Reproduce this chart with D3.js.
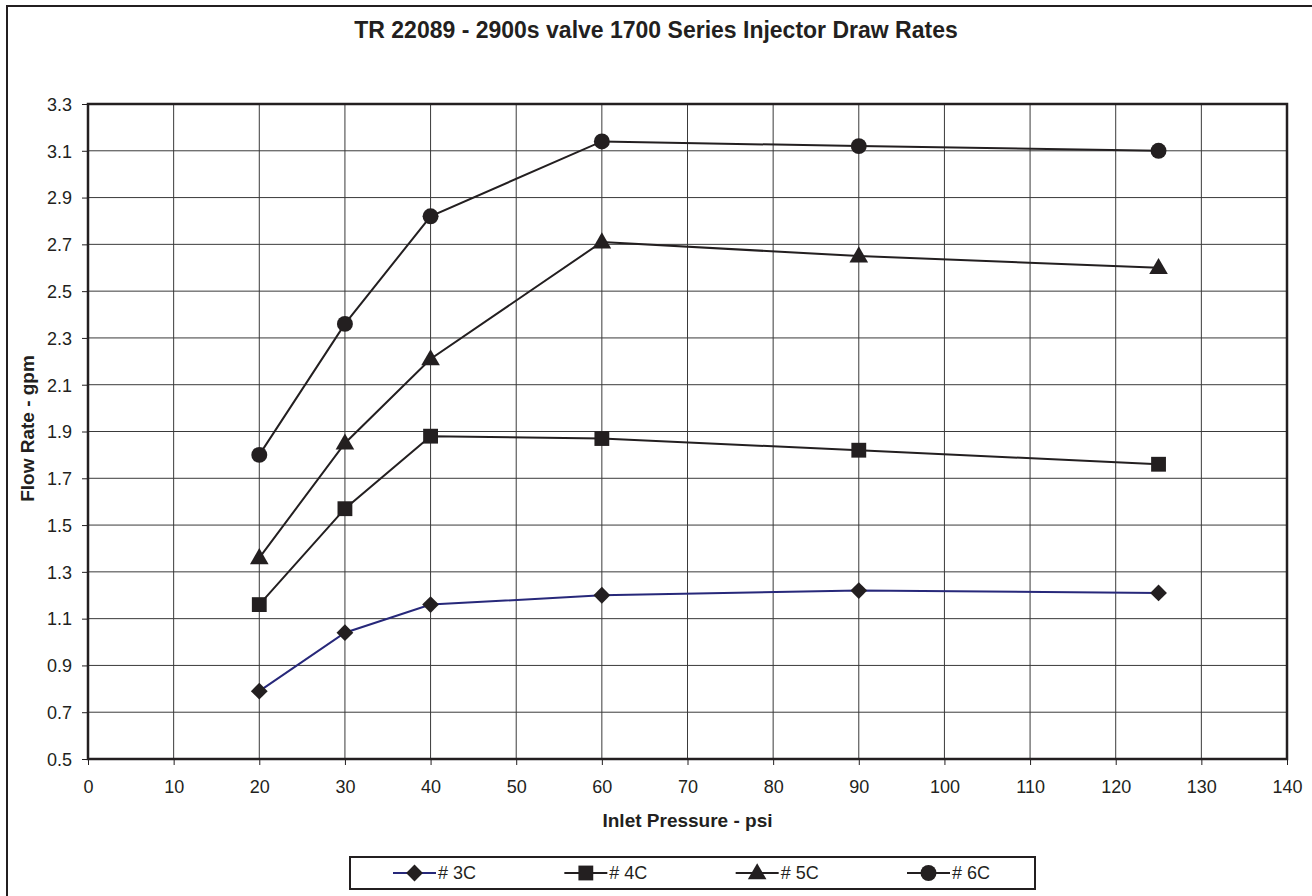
<!DOCTYPE html>
<html>
<head>
<meta charset="utf-8">
<script src="https://cdn.jsdelivr.net/npm/d3@7"></script>
<style>
  body { margin: 0; background: #fff; }
  text { font-family: Arial, "Liberation Sans", sans-serif; fill: #231f20; }
</style>
</head>
<body>
<div id="chart"></div>
<script>
// chart data
let pressures = [20, 30, 40, 60, 90, 125];
let seriesNames = ["# 3C", "# 4C", "# 5C", "# 6C"];
let flow3C = [0.79, 1.04, 1.16, 1.20, 1.22, 1.21];
let flow4C = [1.16, 1.57, 1.88, 1.87, 1.82, 1.76];
let flow5C = [1.36, 1.85, 2.21, 2.71, 2.65, 2.60];
let flow6C = [1.80, 2.36, 2.82, 3.14, 3.12, 3.10];
let xTicks = d3.range(0, 141, 10);
let yTicks = [0.5, 0.7, 0.9, 1.1, 1.3, 1.5, 1.7, 1.9, 2.1, 2.3, 2.5, 2.7, 2.9, 3.1, 3.3];

let seriesStyle = [
    {values: flow3C, line: "#27287a", marker: "diamond"},
    {values: flow4C, line: "#231f20", marker: "square"},
    {values: flow5C, line: "#231f20", marker: "triangle"},
    {values: flow6C, line: "#231f20", marker: "circle"}
];

let W = 1312, H = 896;
let margin = {top: 104, left: 88, right: W - 1287, bottom: H - 759};
let width = W - margin.left - margin.right;
let height = H - margin.top - margin.bottom;

let svg = d3.select("#chart").append("svg")
    .attr("width", W)
    .attr("height", H);

// outer frame (runs off the right and bottom)
svg.append("rect")
    .attr("x", 7).attr("y", 6)
    .attr("width", W + 20).attr("height", H + 20)
    .attr("fill", "none")
    .attr("stroke", "#231f20")
    .attr("stroke-width", 2);

svg.append("text")
    .attr("x", 656).attr("y", 38)
    .attr("text-anchor", "middle")
    .attr("font-size", "23px")
    .attr("font-weight", "bold")
    .text("TR 22089 - 2900s valve 1700 Series Injector Draw Rates");

let g = svg.append("g")
    .attr("transform", `translate(${margin.left}, ${margin.top})`);

let x = d3.scaleLinear().domain([0, 140]).range([0, width]);
let y = d3.scaleLinear().domain([0.5, 3.3]).range([height, 0]);

// grid
g.append("g").selectAll("line")
    .data(xTicks.slice(1, -1))
    .enter().append("line")
    .attr("x1", d => x(d)).attr("x2", d => x(d))
    .attr("y1", 0).attr("y2", height)
    .attr("stroke", "#3a3a3a").attr("stroke-width", 1);

g.append("g").selectAll("line")
    .data(yTicks.slice(1, -1))
    .enter().append("line")
    .attr("x1", 0).attr("x2", width)
    .attr("y1", d => y(d)).attr("y2", d => y(d))
    .attr("stroke", "#3a3a3a").attr("stroke-width", 1);

// axes
let xAxis = d3.axisBottom(x).tickValues(xTicks).tickSize(6).tickSizeOuter(0);
let yAxis = d3.axisLeft(y).tickValues(yTicks).tickSize(6).tickSizeOuter(0)
    .tickFormat(d3.format(".1f"));

let xAxisGroup = g.append("g")
    .attr("transform", `translate(0, ${height})`)
    .call(xAxis);
let yAxisGroup = g.append("g").call(yAxis);

[xAxisGroup, yAxisGroup].forEach(ag => {
    ag.select(".domain").remove();
    ag.selectAll("line").attr("stroke", "#231f20");
    ag.selectAll("text")
        .attr("font-size", "18px")
        .attr("font-family", "Arial, 'Liberation Sans', sans-serif")
        .attr("fill", "#231f20");
});
xAxisGroup.selectAll("text").attr("dy", null).attr("y", 34);
yAxisGroup.selectAll("text").attr("x", -16).attr("dy", "0.35em");

// plot border
g.append("rect")
    .attr("width", width).attr("height", height)
    .attr("fill", "none")
    .attr("stroke", "#231f20")
    .attr("stroke-width", 2.5);

// axis titles
svg.append("text")
    .attr("x", margin.left + width / 2).attr("y", 827)
    .attr("text-anchor", "middle")
    .attr("font-size", "19px").attr("font-weight", "bold")
    .text("Inlet Pressure - psi");

svg.append("text")
    .attr("transform", `translate(34, ${margin.top + height / 2 - 3}) rotate(-90)`)
    .attr("text-anchor", "middle")
    .attr("font-size", "19px").attr("font-weight", "bold")
    .text("Flow Rate - gpm");

// marker shapes
let symbolFor = {
    diamond: d3.symbol().type(d3.symbolDiamond2).size(180),
    square: d3.symbol().type(d3.symbolSquare).size(220),
    triangle: d3.symbol().type(d3.symbolTriangle).size(150),
    circle: d3.symbol().type(d3.symbolCircle).size(200)
};

let line = d3.line()
    .x(d => x(d.p))
    .y(d => y(d.v));

seriesStyle.forEach(s => {
    let pts = pressures.map((p, i) => ({p: p, v: s.values[i]}));
    g.append("path")
        .datum(pts)
        .attr("fill", "none")
        .attr("stroke", s.line)
        .attr("stroke-width", 2)
        .attr("d", line);
    g.append("g").selectAll("path")
        .data(pts)
        .enter().append("path")
        .attr("transform", d => `translate(${x(d.p)}, ${y(d.v) + (s.marker === "triangle" ? 1 : 0)})`)
        .attr("d", symbolFor[s.marker])
        .attr("fill", "#231f20");
});

// legend
let legend = svg.append("g");
legend.append("rect")
    .attr("x", 350).attr("y", 857)
    .attr("width", 685).attr("height", 32)
    .attr("fill", "#fff")
    .attr("stroke", "#231f20")
    .attr("stroke-width", 2);

let legendX = d3.scalePoint().domain(seriesNames).range([393, 907]);

seriesNames.forEach((name, i) => {
    let s = seriesStyle[i];
    let lx = legendX(name);
    let item = legend.append("g").attr("transform", `translate(${lx}, 873)`);
    item.append("line")
        .attr("x1", 0).attr("x2", 43)
        .attr("stroke", s.line).attr("stroke-width", 2);
    item.append("path")
        .attr("transform", `translate(21.5, ${s.marker === "triangle" ? 1 : 0})`)
        .attr("d", symbolFor[s.marker])
        .attr("fill", "#231f20");
    item.append("text")
        .attr("x", 45).attr("dy", "0.35em")
        .attr("font-size", "18px")
        .text(name);
});
</script>
</body>
</html>
